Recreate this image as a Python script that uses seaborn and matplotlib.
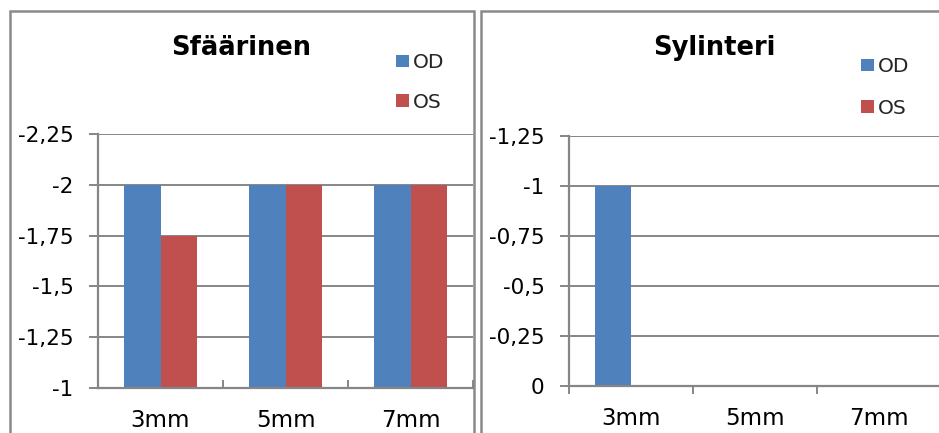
import matplotlib
matplotlib.use("Agg")
import matplotlib.pyplot as plt
from matplotlib.patches import Rectangle
import pandas as pd
import seaborn as sns

# Refraction per pupil size, OD = right eye, OS = left eye
categories = ["3mm", "5mm", "7mm"]
sphere_od = [-2.0, -2.0, -2.0]
sphere_os = [-1.75, -2.0, -2.0]
cylinder_od = [-1.0, 0.0, 0.0]
cylinder_os = [0.0, 0.0, 0.0]
eyes = ["OD", "OS"]

sphere_ticks = [-2.25, -2.0, -1.75, -1.5, -1.25, -1.0]
sphere_labels = ["-2,25", "-2", "-1,75", "-1,5", "-1,25", "-1"]
cylinder_ticks = [-1.25, -1.0, -0.75, -0.5, -0.25, 0.0]
cylinder_labels = ["-1,25", "-1", "-0,75", "-0,5", "-0,25", "0"]

palette = {"OD": "#4F81BD", "OS": "#C0504D"}
GRAY = "#868686"

sns.set_theme(style="white")
plt.rcParams["font.family"] = ["DejaVu Sans"]

W, H = 939, 433
fig = plt.figure(figsize=(W / 100, H / 100), dpi=100)


def px_axes(x0, y0, x1, y1):
    return fig.add_axes([x0 / W, 1 - y1 / H, (x1 - x0) / W, (y1 - y0) / H])


def long_table(od, os_):
    return pd.DataFrame({
        "koko": categories * 2,
        "silmä": [eyes[0]] * len(categories) + [eyes[1]] * len(categories),
        "arvo": list(od) + list(os_),
    })


def draw_panel(ax, table, ylim, ticks, labels, xtick_dir, legend_xy, spacing):
    sns.barplot(data=table, x="koko", y="arvo", hue="silmä", order=categories,
                hue_order=eyes, palette=palette, width=0.58, saturation=1,
                linewidth=0, ax=ax)
    ax.set_xlim(-0.5, 2.5)
    ax.set_ylim(*ylim)
    ax.set_yticks(ticks)
    ax.set_yticklabels(labels)
    ax.set_xlabel("")
    ax.set_ylabel("")
    ax.yaxis.grid(True, color=GRAY, linewidth=1.4)
    ax.set_axisbelow(True)
    for side in ("top", "right"):
        ax.spines[side].set_visible(False)
    for side in ("left", "bottom"):
        ax.spines[side].set_color(GRAY)
        ax.spines[side].set_linewidth(1.6)
    ax.tick_params(axis="y", which="major", direction="out", length=6.5,
                   width=1.4, color=GRAY, pad=11, labelsize=15.5,
                   labelcolor="black", left=True)
    ax.set_xticks([-0.5, 0.5, 1.5, 2.5], minor=True)
    ax.tick_params(axis="x", which="major", length=0, pad=15,
                   labelsize=16.5, labelcolor="black")
    ax.tick_params(axis="x", which="minor", direction=xtick_dir, length=5.8,
                   width=1.4, color=GRAY, bottom=True)
    sns.move_legend(ax, loc="upper left",
                    bbox_to_anchor=(legend_xy[0] / W, 1 - legend_xy[1] / H),
                    bbox_transform=fig.transFigure, frameon=False, title=None,
                    fontsize=14.5, handlelength=0.65, handleheight=0.6,
                    handletextpad=0.2, labelspacing=spacing,
                    borderpad=0, borderaxespad=0)


# chart frames
for x0, x1 in [(10, 474), (481, 960)]:
    fig.add_artist(Rectangle((x0 / W, -0.05), (x1 - x0) / W, 1.05 - 11 / H,
                             transform=fig.transFigure, fill=False,
                             edgecolor="#8a8a8a", linewidth=1.8, clip_on=False))

ax_sph = px_axes(98, 134, 473, 388)
draw_panel(ax_sph, long_table(sphere_od, sphere_os), (-1.0, -2.25),
           sphere_ticks, sphere_labels, "in", (396, 53), 1.04)

ax_cyl = px_axes(569, 136, 941, 386)
draw_panel(ax_cyl, long_table(cylinder_od, cylinder_os), (0.0, -1.25),
           cylinder_ticks, cylinder_labels, "out", (861, 57), 1.14)

fig.text(241 / W, 1 - 48 / H, "Sfäärinen", ha="center", va="center",
         fontsize=18.5, fontweight="bold", color="black")
fig.text(714 / W, 1 - 48 / H, "Sylinteri", ha="center", va="center",
         fontsize=18.5, fontweight="bold", color="black")

fig.savefig("out.png", dpi=100, facecolor="white")
